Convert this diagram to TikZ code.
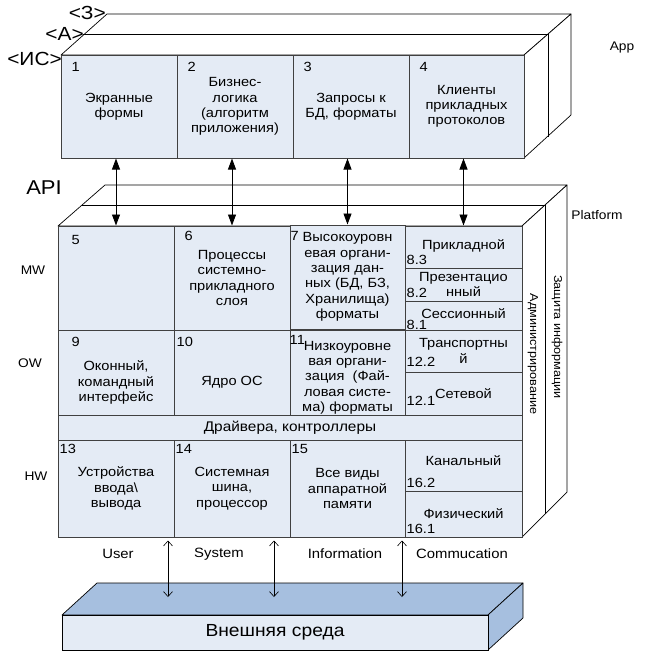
\documentclass[tikz,border=0pt]{standalone}
\usepackage{fontspec}
\setmainfont{Liberation Sans}[FakeStretch=1.1]
\usepackage{xcolor}
\usetikzlibrary{arrows.meta,positioning}

\definecolor{cellblue}{HTML}{E4EBF5}
\definecolor{slabblue}{HTML}{A6BFDF}
\definecolor{cellline}{HTML}{404040}

\newcommand{\cellfont}{\fontsize{13.3}{15.3}\selectfont}
\newcommand{\sidefont}{\fontsize{11.5}{13}\selectfont}
\newcommand{\layerfont}{\fontsize{19}{21}\selectfont}

\tikzset{
  cell/.style={draw=cellline, line width=1pt, fill=cellblue, align=center,
    inner sep=0pt, font=\cellfont},
  txt/.style={align=center, inner sep=0pt, font=\cellfont},
  num/.style={inner sep=0pt, font=\cellfont},
  face/.style={draw, fill=white, line width=0.7pt, line join=round},
  slab/.style={draw, fill=slabblue, line width=0.7pt, line join=round},
  lbl/.style={inner sep=0pt, font=\fontsize{12.5}{14}\selectfont},
  layer/.style={anchor=east, inner sep=0pt, font=\layerfont},
  apiarrow/.style={{Triangle[width=8pt,length=11pt]}-{Triangle[width=8pt,length=11pt]},
    line width=0.9pt},
  envarrow/.style={{Straight Barb[width=9pt,length=5pt]}-{Straight Barb[width=9pt,length=5pt]},
    line width=0.6pt},
}

\begin{document}
\begin{tikzpicture}[x=1pt,y=-1pt]
    \useasboundingbox (0,0) rectangle (650,651);

    % App box: top and side faces
    \draw[face] (61,55) -- (107,14) -- (571,14) -- (524,55) -- cycle;
    \draw[face] (524,55) -- (571,14) -- (571,115) -- (524,158) -- cycle;
    \draw[line width=0.7pt] (83,34) -- (548,34) -- (548,137);
    \node[layer] (lz) at (106,13) {<З>};
    \node[layer] (la) at (84,34) {<А>};
    \node[layer] (lis) at (62,59) {<ИС>};
    \node[lbl] (app) at (622,47) {App};

    % App cells
    \foreach \n/\x/\w/\txt in {1/119/116/{Экранные\\формы},
        2/235/116/{Бизнес-\\логика\\(алгоритм\\приложения)},
        3/351/116/{Запросы к\\БД, форматы},
        4/466.5/115/{Клиенты\\прикладных\\протоколов}} {
        \node[cell, minimum width=\w, minimum height=103] (c\n) at (\x,106.5) {\txt};
        % cell number
        \node[num, below right=8pt and 11pt of c\n.north west] (n\n) {\n};
    }

    \node[inner sep=0pt, font=\fontsize{20}{22}\selectfont] (api) at (44,188) {API};

    % Platform box: top and side faces
    \draw[face] (58,226) -- (105,185) -- (567,185) -- (522,226) -- cycle;
    \draw[face] (522,226) -- (567,185) -- (567,492) -- (522,537) -- cycle;
    \draw[line width=0.7pt] (82,205) -- (545,205) -- (545,514);
    \node[lbl] (plat) at (597,215) {Platform};
    \node[rotate=-90, inner sep=0pt, font=\sidefont] (adm) at (533,354) {Администрирование};
    \node[rotate=-90, inner sep=0pt, font=\sidefont] (prot) at (557,337) {Защита информации};

    % MW row
    \node[lbl] (mw) at (33,270) {MW};
    \node[cell, minimum width=116, minimum height=104] (c5) at (116,278) {};
    \node[cell, minimum width=116, minimum height=104] (c6) at (232,278)
        {Процессы\\системно-\\прикладного\\слоя};
    \node[cell, minimum width=115, minimum height=104] (c7) at (347.5,277)
        {Высокоуровн\\евая органи-\\зация дан-\\ных (БД, БЗ,\\Хранилища)\\форматы};
    \node[num, below right=10pt and 14pt of c5.north west] (n5) {5};
    \node[num, below right=6pt and 11pt of c6.north west] (n6) {6};
    \node[num, below right=7pt and 1pt of c7.north west] (n7) {7};

    % OW row
    \node[lbl] (ow) at (30,363) {OW};
    \node[cell, minimum width=116, minimum height=85] (c9) at (116,372.5) {};
    \node[cell, minimum width=116, minimum height=85] (c10) at (232,372.5) {};
    \node[cell, minimum width=115, minimum height=85] (c11) at (347.5,372.5) {};
    \node[txt] (t9) at ([yshift=-10pt]c9.center) {Оконный,\\командный\\интерфейс};
    \node[txt] (t10) at ([yshift=-10pt]c10.center) {Ядро ОС};
    \node[txt] (t11) at ([yshift=-5pt]c11.center)
        {Низкоуровне\\вая органи-\\зация~ (Фай-\\ловая систе-\\ма) форматы};
    \node[num, below right=8pt and 14pt of c9.north west] (n9) {9};
    \node[num, below right=8pt and 3pt of c10.north west] (n10) {10};
    \node[num, below right=6pt and 0pt of c11.north west] (n11) {11};

    % right column: network levels
    \foreach \n/\y/\h in {83/247/42, 82/284.5/33, 81/315.5/29, 122/351/42,
        121/393.5/43, 162/465.5/51, 161/514/46} {
        \node[cell, minimum width=117, minimum height=\h] (c\n) at (463.5,\y) {};
    }
    \node[txt] (t83) at ([yshift=1pt]c83.center) {Прикладной};
    \node[txt] (t82) at (c82.center) {Презентацио\\нный};
    \node[txt] (t81) at ([yshift=2pt]c81.center) {Сессионный};
    \node[txt] (t122) at (c122.center) {Транспортны\\й};
    \node[txt] (t121) at (c121.center) {Сетевой};
    \node[txt] (t162) at ([yshift=5pt]c162.center) {Канальный};
    \node[txt] (t161) at (c161.center) {Физический};
    \node[num, above right=4pt and 2pt of c83.south west] (n83) {8.3};
    \node[num, above right=4pt and 2pt of c82.south west] (n82) {8.2};
    \node[num, above right=0.5pt and 2pt of c81.south west] (n81) {8.1};
    \node[num, above right=6pt and 2pt of c122.south west] (n122) {12.2};
    \node[num, above right=10pt and 2pt of c121.south west] (n121) {12.1};
    \node[num, above right=4pt and 2pt of c162.south west] (n162) {16.2};
    \node[num, above right=4pt and 2pt of c161.south west] (n161) {16.1};

    % drivers bar
    \node[cell, minimum width=464, minimum height=25, font=\fontsize{14}{16}\selectfont]
        (drv) at (290,427.5) {Драйвера, контроллеры};

    % HW row
    \node[lbl] (hw) at (36,476) {HW};
    \node[cell, minimum width=116, minimum height=97] (c13) at (116,488.5)
        {Устройства\\ввода\textbackslash\\вывода};
    \node[cell, minimum width=116, minimum height=97] (c14) at (232,488.5)
        {Системная\\шина,\\процессор};
    \node[cell, minimum width=115, minimum height=97] (c15) at (347.5,488.5)
        {Все виды\\аппаратной\\памяти};
    \node[num, below right=5pt and 2pt of c13.north west] (n13) {13};
    \node[num, below right=5pt and 2pt of c14.north west] (n14) {14};
    \node[num, below right=5pt and 2pt of c15.north west] (n15) {15};

    % API arrows
    \foreach \a/\b in {1/5, 2/6, 3/7, 4/83} {
        \draw[apiarrow] (c\a.south -| c\b.north) -- (c\b.north);
    }

    % bottom labels
    \foreach \n/\x/\txt in {1/118/User, 2/219/System, 3/345/Information, 4/462/Commucation} {
        \node[inner sep=0pt, font=\fontsize{13.5}{15}\selectfont] (b\n) at (\x,554) {\txt};
    }

    % external environment slab
    \draw[slab] (62,615) -- (97,583) -- (523,583) -- (488,615) -- cycle;
    \draw[slab] (488,615) -- (523,583) -- (523,618) -- (488,650) -- cycle;
    \node[draw, fill=cellblue, line width=0.7pt, minimum width=426, minimum height=35,
        font=\fontsize{17.5}{19}\selectfont] (env) at (275,632.5) {Внешняя среда};

    % arrows down to the environment
    \foreach \c/\n/\x in {13/1/168, 14/2/274, 15/3/402} {
        \coordinate (u\n) at (\x,597);
        \draw[envarrow, shorten <=3pt] (c\c.south -| u\n) -- (u\n);
    }
\end{tikzpicture}
\end{document}
